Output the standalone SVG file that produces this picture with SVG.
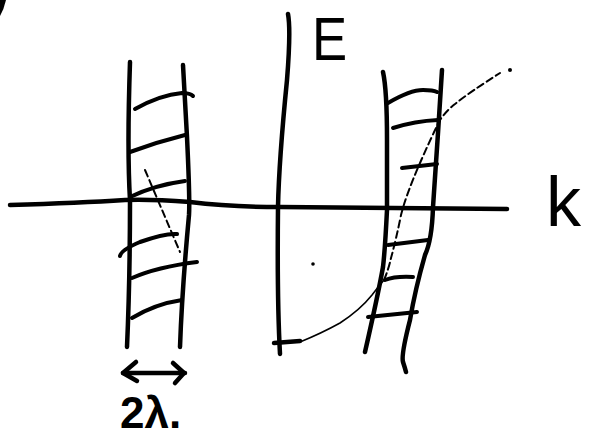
<svg xmlns="http://www.w3.org/2000/svg" width="599" height="436" viewBox="0 0 599 436">
<style>
.ln{fill:none;stroke:#000;stroke-width:4.5;stroke-linecap:round;stroke-linejoin:round}
.rg{fill:none;stroke:#000;stroke-width:4;stroke-linecap:round}
.th{fill:none;stroke:#000;stroke-width:1.6;stroke-linecap:round}
.ds{fill:none;stroke:#000;stroke-width:2;stroke-dasharray:7 4;stroke-linecap:round}
.lb{font-family:"Liberation Sans",Arial,sans-serif;fill:#000}
</style>
<rect width="599" height="436" fill="#fff"/>
<path d="M0,0 L6,0 Q4,9 0,16 Z" fill="#000"/>
<g id="axes">
<path class="ln" d="M10,205 Q80,203 125,200 Q150,199 190,202 Q230,207 280,207 L507,209"/>
<path class="ln" d="M288,14 Q291,30 287,80 Q279,160 278,207 Q277,300 280,354"/>
<path class="ln" d="M274,343 L300,341"/>
</g>
<g id="left-band">
<path class="ln" d="M130,62 Q127,150 130,200 Q130,280 127,347"/>
<path class="ln" d="M183,65 Q186,120 187,137 Q190,200 189,215 Q182,290 180,347"/>
<path class="rg" d="M135,109 Q160,95 182,93 Q190,93 193,96"/>
<path class="rg" d="M130,152 Q157,142 185,135"/>
<path class="rg" d="M130,197 Q155,185 185,181"/>
<path class="rg" d="M120,256 Q121,250 140,242 Q165,233 177,234"/>
<path class="rg" d="M132,278 Q157,267 197,262"/>
<path class="rg" d="M132,318 Q155,304 182,300"/>
<path class="ds" d="M145,170 L180,252" stroke-width="2.5"/>
</g>
<g id="right-band">
<path class="ln" d="M383,72 Q387,90 387,140 L387,210 Q385,250 383,267 Q378,295 365,352"/>
<path class="ln" d="M442,70 Q440,100 438,133 L433,207 Q432,240 425,255 Q415,290 410,320 Q401,355 403,362 Q405,368 406,372"/>
<path class="rg" d="M388,103 Q410,90 423,90 Q433,90 437,92"/>
<path class="rg" d="M393,128 Q415,121 438,120"/>
<path class="rg" d="M402,168 L437,164"/>
<path class="rg" d="M388,245 L428,240"/>
<path class="rg" d="M385,280 Q395,276 413,277"/>
<path class="rg" d="M368,317 L417,312"/>
</g>
<g id="curve">
<path class="th" d="M300,342 Q322,333 340,323 Q360,310 372,295 Q378,287 384,280"/>
<path class="ds" d="M384,280 Q389,268 391,258 Q396,240 401,215 Q406,195 420,163 Q430,140 440,120 Q447,110 455,104 Q470,92 500,73"/>
<circle cx="510" cy="70" r="2" fill="#000"/>
<circle cx="313" cy="264" r="1.8" fill="#000"/>
</g>
<g id="width-arrow">
<path class="ln" d="M123,373 L185,373"/>
<path class="ln" d="M136,362 L123,373 L137,381"/>
<path class="ln" d="M173,363 L184,373 L175,383"/>
</g>
<g id="labels">
<text class="lb" transform="translate(312,60) scale(0.85,1)" font-size="62">E</text>
<text class="lb" x="546" y="226" font-size="70">k</text>
<text class="lb" x="120" y="428" font-size="44" font-weight="bold">2λ.</text>
</g>
</svg>
